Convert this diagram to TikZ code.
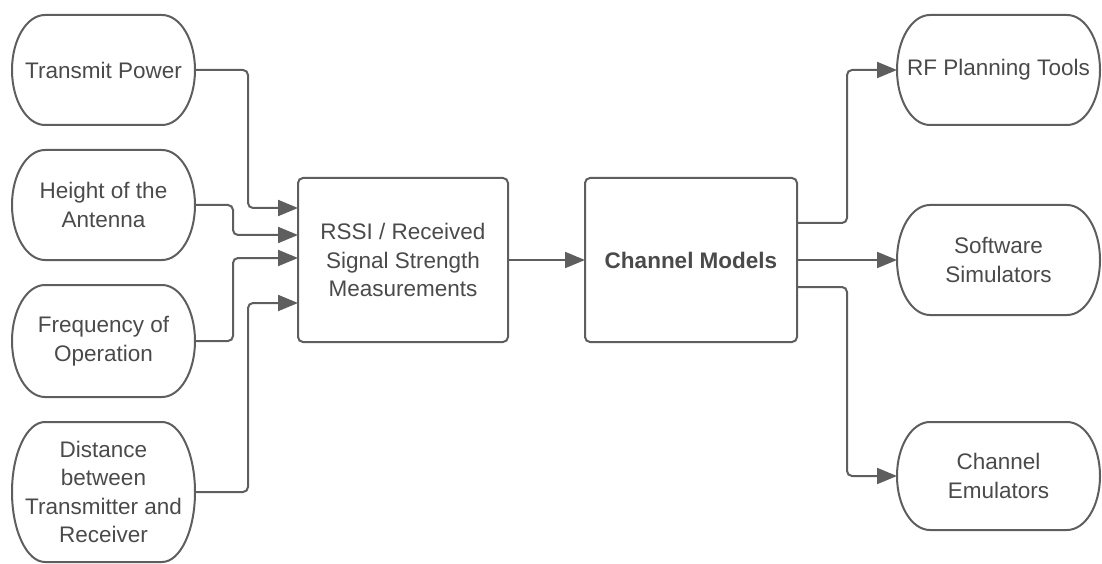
\documentclass[tikz,border=0pt]{standalone}
\usepackage{fontspec}
\setmainfont{Liberation Sans}
\usetikzlibrary{arrows.meta,calc}
\definecolor{ln}{HTML}{5E5E5E}
\definecolor{tx}{HTML}{4A4A4A}
\tikzset{
  boxline/.style={draw=ln, line width=2pt},
  txt/.style={inner sep=0pt, outer sep=0pt, align=center, text=tx,
    font=\fontsize{22.5}{28.5}\selectfont},
  sqbox/.style={txt, boxline, rounded corners=5pt},
  conn/.style={draw=ln, line width=2pt, rounded corners=5pt,
    -{Triangle[length=20pt,width=16pt]}},
}
\newcommand\termbox[6]{%
  \node[txt, minimum width=#4pt, minimum height=#5pt] (#1) at (#2,#3) {#6};
  \draw[boxline] ($(#1.north west)+(33pt,0)$) -- ($(#1.north east)+(-33pt,0)$)
    arc[start angle=90, end angle=-90, x radius=33pt, y radius=#5pt/2]
    -- ($(#1.south west)+(33pt,0)$)
    arc[start angle=270, end angle=90, x radius=33pt, y radius=#5pt/2] -- cycle;
}
\begin{document}
\begin{tikzpicture}[x=1pt,y=1pt]
\useasboundingbox (0,0) rectangle (1102,563);
\termbox{tp}{103.5}{493}{183}{110}{Transmit Power}
\termbox{ha}{103.5}{358}{183}{110}{Height of the\\Antenna}
\termbox{fo}{103.5}{222}{183}{112}{Frequency of\\Operation}
\termbox{db}{103.5}{71}{183}{140}{Distance\\between\\Transmitter and\\Receiver}
\node[sqbox, minimum width=210pt, minimum height=164pt] (rssi) at (403,303)
  {RSSI / Received\\Signal Strength\\Measurements};
\node[sqbox, minimum width=212pt, minimum height=164pt] (cm) at (691,303)
  {\textbf{Channel Models}};
\termbox{rf}{998.5}{493}{203}{110}{RF Planning Tools}
\termbox{ss}{998.5}{303}{203}{110}{Software\\Simulators}
\termbox{ce}{998.5}{87}{203}{108}{Channel\\Emulators}
\draw[conn] (tp.east) -- ++(53,0) |- ([yshift=52pt]rssi.west);
\draw[conn] (ha.east) -- ++(38,0) |- ([yshift=25pt]rssi.west);
\draw[conn] (fo.east) -- ++(38,0) |- ([yshift=2pt]rssi.west);
\draw[conn] (db.east) -- ++(53,0) |- ([yshift=-43pt]rssi.west);
\draw[conn] (rssi.east) -- (cm.west);
\draw[conn] ([yshift=37pt]cm.east) -- ++(50,0) |- (rf.west);
\draw[conn] (cm.east) -- (ss.west);
\draw[conn] ([yshift=-27pt]cm.east) -- ++(50,0) |- (ce.west);
\end{tikzpicture}
\end{document}
